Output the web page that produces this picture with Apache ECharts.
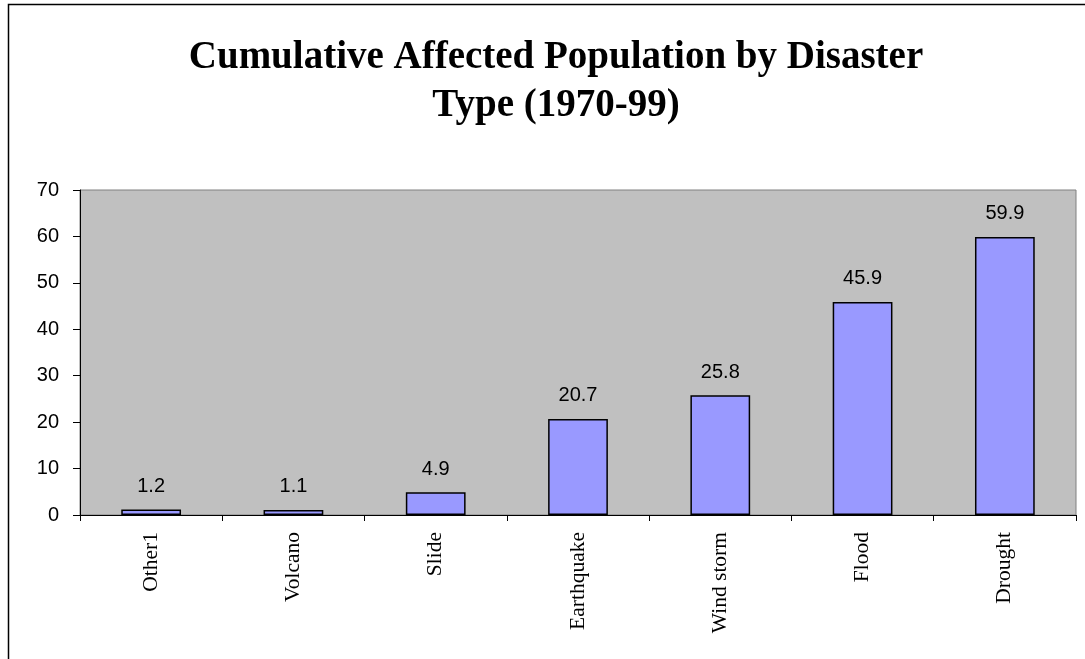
<!DOCTYPE html>
<html>
<head>
<meta charset="utf-8">
<script src="https://cdn.jsdelivr.net/npm/echarts@6/dist/echarts.min.js"></script>
<style>
html,body{margin:0;padding:0;background:#fff;}
#main{width:1085px;height:659px;}
</style>
</head>
<body>
<div id="main"></div>
<script>
const titleText = 'Cumulative Affected Population by Disaster\nType (1970-99)';
const categories = ['Other1', 'Volcano', 'Slide', 'Earthquake', 'Wind storm', 'Flood', 'Drought'];
const values = [1.2, 1.1, 4.9, 20.7, 25.8, 45.9, 59.9];
const yMin = 0, yMax = 70, yStep = 10;

const chart = echarts.init(document.getElementById('main'), null, {renderer: 'canvas'});
chart.setOption({
  animation: false,
  backgroundColor: '#ffffff',
  graphic: [{
    type: 'rect',
    shape: {x: 8.5, y: 4.5, width: 1200, height: 1000},
    style: {fill: 'none', stroke: '#000', lineWidth: 1.5},
    silent: true, z: 100
  }],
  title: {
    text: titleText,
    left: 551,
    top: 29,
    textAlign: 'center',
    textStyle: {
      fontFamily: 'Liberation Serif',
      fontWeight: 'bold',
      fontSize: 39,
      lineHeight: 48,
      color: '#000'
    }
  },
  grid: {
    left: 80, right: 9, top: 190, bottom: 144,
    show: true,
    backgroundColor: '#c0c0c0',
    borderColor: '#808080',
    borderWidth: 1,
    containLabel: false
  },
  xAxis: {
    type: 'category',
    data: categories,
    boundaryGap: true,
    axisLine: {show: true, lineStyle: {color: '#000', width: 1}},
    axisTick: {show: true, alignWithLabel: false, length: 6, inside: false, lineStyle: {color: '#000'}},
    axisLabel: {
      rotate: 90,
      margin: 17,
      interval: 0,
      fontFamily: 'Liberation Serif',
      fontSize: 21.5,
      color: '#000'
    },
    splitLine: {show: false}
  },
  yAxis: {
    type: 'value',
    min: yMin, max: yMax, interval: yStep,
    axisLine: {show: true, lineStyle: {color: '#000', width: 1}},
    axisTick: {show: true, length: 7, inside: false, lineStyle: {color: '#000'}},
    axisLabel: {
      margin: 21,
      fontFamily: 'Liberation Sans',
      fontSize: 20,
      color: '#000'
    },
    splitLine: {show: false}
  },
  series: [{
    type: 'bar',
    data: values,
    barWidth: '42%',
    itemStyle: {color: '#9999ff', borderColor: '#000', borderWidth: 1.5},
    label: {
      show: true,
      position: 'top',
      distance: 13,
      fontFamily: 'Liberation Sans',
      fontSize: 20,
      color: '#000'
    }
  }]
});
</script>
</body>
</html>
